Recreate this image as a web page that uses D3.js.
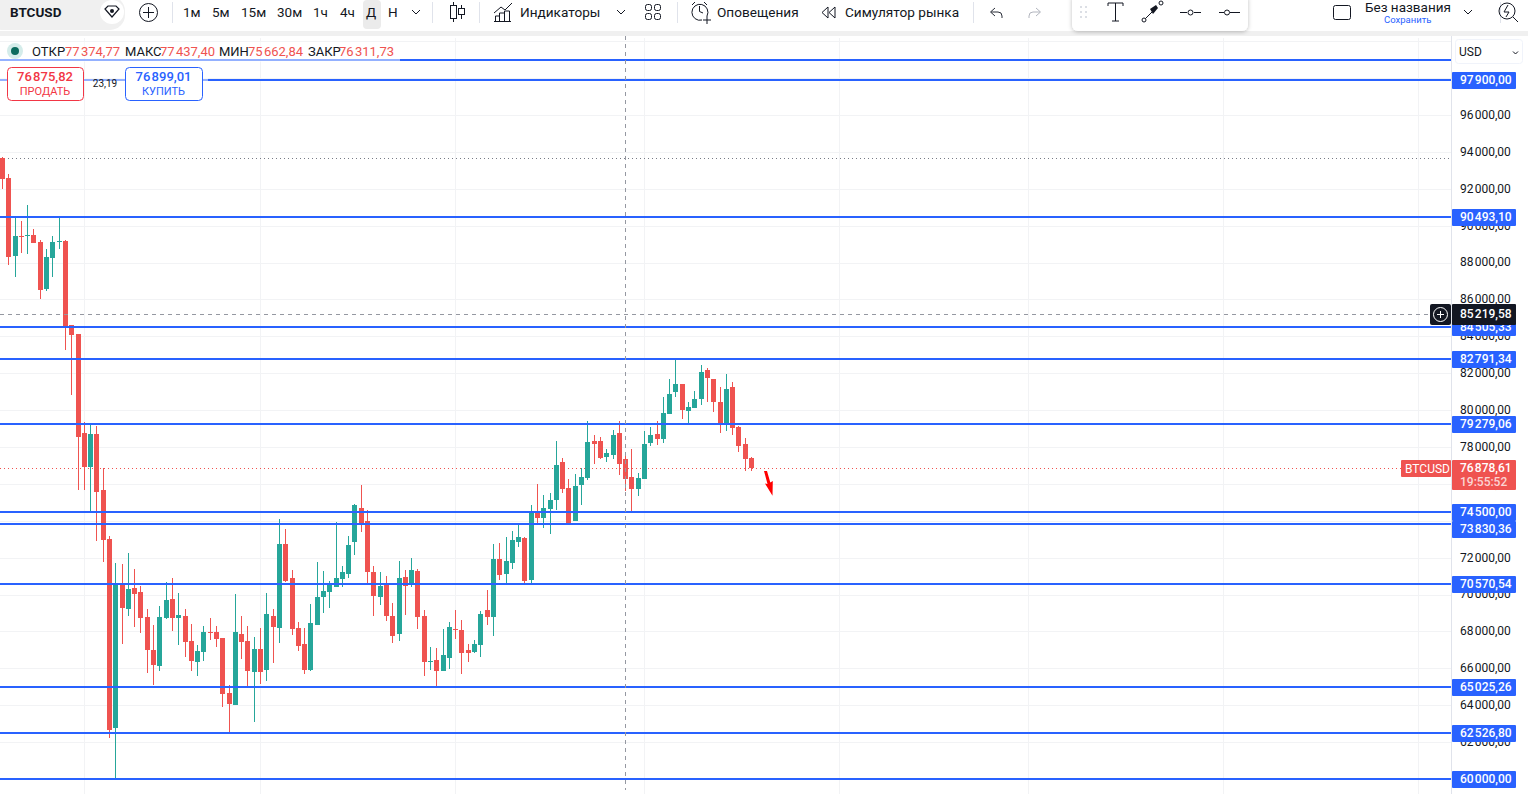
<!DOCTYPE html>
<html>
<head>
<meta charset="utf-8">
<script src="https://cdn.jsdelivr.net/npm/d3@7"></script>
<style>
  html, body { margin: 0; padding: 0; background: #fff; overflow: hidden; }
  text { font-family: Roboto, sans-serif; fill: #131722; }
</style>
</head>
<body>
<svg id="chart" width="1528" height="794"></svg>
<script>
// daily BTCUSD candles
var opens = [93671,92586,88357,89441,89441,89496,89116,86568,88249,89116,89170,84616,84128,78760,76916,78706,75669,73013,62765,70518,
  69217,70356,70139,68784,66994,66126,68729,69759,68729,68838,67483,66343,66885,67970,67970,67645,64663,64013,67862,67483,
  65800,67049,65910,68838,68187,72741,70898,68187,67320,65910,68349,69868,70139,70410,70844,71115,72850,74694,73988,71224,
  69868,70518,68838,67862,70952,70627,71278,68838,66343,66452,65855,66560,68133,68078,66994,66885,67265,69163,68784,71928,
  71115,71711,72850,73067,70790,74422,74151,74639,75127,77188,75778,73988,75940,76320,78326,78326,77459,77567,78760,77350,
  76374,75723,76266,78218,78706,78434,79790,80982,81416,79953,80115,80603,82177,81687,80440,79248,81254,79085,78163,77404];
var highs = [93700,92803,90472,90255,91122,89821,89225,88737,89441,90472,89225,84616,84128,79356,79302,79139,76862,73175,71711,71657,
  72253,71386,70464,69217,68349,69380,70681,70898,70085,69217,68404,67265,68295,68729,68295,67645,65096,70030,68838,68295,
  67700,68187,70085,69217,74097,73555,71332,68512,68187,69488,71765,71278,70735,73934,71549,73175,74910,75940,74585,71549,
  71224,71007,69542,71820,71332,71982,71386,69163,67157,67102,68133,68512,69163,68621,67320,67536,69108,70247,72741,72796,
  73120,73446,73771,73120,74856,75995,75398,75507,78326,77404,76266,76537,76862,79411,78652,78543,77893,78922,79411,77676,
  77893,76591,78869,79085,79411,80711,81687,82772,81416,80440,81037,82447,82284,81687,81254,81959,81525,79139,78488,77459];
var lows = [91990,87869,87218,88520,88466,89062,86026,86459,87218,88737,83260,80820,75669,75669,74476,72904,71765,62223,60000,67320,
  68838,68241,67916,65746,65096,65855,68675,68024,67265,66614,65855,65583,66398,67536,67157,63903,62494,64013,66506,64988,
  63089,65151,65314,66289,67374,70681,67808,66940,65692,65855,68349,68999,69271,70410,70410,70898,72142,73392,70518,68838,
  69434,68567,67374,67483,68892,70410,68133,65583,65910,64988,65855,65964,67591,65692,66343,66830,66614,68349,67753,70790,
  70518,71386,72579,70573,70627,73880,73609,73283,74585,75507,73826,73988,74856,76211,77079,77350,77188,77350,76483,75615,
  74476,75344,76266,78055,78109,78218,79790,80711,79519,79248,80115,80278,80440,79898,78760,78869,78652,77730,76699,76699];
var closes = [92532,88303,89441,89387,89496,89062,86514,88303,89116,89170,84562,84074,78543,76916,78706,75561,72958,62656,70518,69271,
  70301,70030,68729,66994,66181,68784,69705,68729,68892,67428,66398,66940,67970,67916,67591,64608,64067,67970,67428,65855,
  67049,65800,68946,68241,72741,70735,68133,67211,65910,68458,69868,70193,70573,70898,71224,72687,74856,73826,71224,69922,
  70464,68838,67753,70898,70464,71332,68784,66343,66398,65855,66723,68241,68078,66830,66830,67320,68946,68784,71928,71060,
  71820,72958,73120,70735,74476,74151,74694,75127,77025,75723,73826,75886,76374,78272,78163,77404,77676,78652,77079,76266,
  75723,76320,78163,78652,78434,79844,80874,81416,79997,80169,80603,82069,81742,80440,79248,81146,79031,78055,77350,76878.61];

// month boundaries, as candle numbers
var monthStarts = [13, 41, 72, 102, 133, 163, 194, 225];

var priceTicks = [62000,64000,66000,68000,70000,72000,74000,76000,78000,80000,82000,84000,86000,88000,90000,92000,94000,96000];
// highest first, tags get stacked in this order
var levels = [97900, 90493.10, 84505.33, 82791.34, 79279.06, 74500, 73830.36, 70570.54, 65025.26, 62526.80, 60000];
var topLevel = 98984;
var dottedLevel = 93671;
var lastPrice = 76878.61;
var crossPrice = 85219.58;
var crossIndex = 99;
var arrowFrom = 76699;

var legendItems = [
  ["ОТКР", "77\u200a374,77", 32, 65],
  ["МАКС", "77\u200a437,40", 125, 160],
  ["МИН", "75\u200a662,84", 219, 248],
  ["ЗАКР", "76\u200a311,73", 308, 339]
];
var timeframes = [["1м",183],["5м",212],["15м",241],["30м",277],["1ч",313],["4ч",340],["Д",366],["Н",388]];

var blue = "#2962ff", red = "#ef5350", green = "#26a69a";

var svg = d3.select("#chart");
var locale = d3.formatLocale({decimal: ",", thousands: "\u200a", grouping: [3]});
var fmt = locale.format(",.2f");

var x = d3.scaleLinear().domain([0, 119]).range([2.3, 751.3]);
var y = d3.scaleLinear().domain([60000, 97900]).range([779, 80]);
var axisX = 1451;

function px(i) { return Math.floor(x(i) + 0.2) + 0.5; }
function py(v) { return Math.round(y(v)); }
function levelY(v) { return Math.round(y(v) + 0.3); }

// Gridlines
var grid = svg.append("g");
grid.selectAll(".h").data(priceTicks.concat([98000])).enter().append("line")
  .attr("x1", 0).attr("x2", axisX)
  .attr("y1", d => py(d) + 0.5).attr("y2", d => py(d) + 0.5)
  .attr("stroke", "#f2f3f5");
grid.selectAll(".v").data(monthStarts).enter().append("line")
  .attr("x1", d => px(d)).attr("x2", d => px(d))
  .attr("y1", 38).attr("y2", 794)
  .attr("stroke", "#f2f3f5");
grid.append("line").attr("x1", 0).attr("x2", axisX).attr("y1", 41.5).attr("y2", 41.5).attr("stroke", "#f2f3f5");

// dotted lines
svg.append("line").attr("x1", 0).attr("x2", axisX)
  .attr("y1", py(dottedLevel) + 0.5).attr("y2", py(dottedLevel) + 0.5)
  .attr("stroke", "#787b86").attr("stroke-dasharray", "1 3");
svg.append("line").attr("x1", 0).attr("x2", 1401)
  .attr("y1", py(lastPrice) + 0.5).attr("y2", py(lastPrice) + 0.5)
  .attr("stroke", red).attr("stroke-dasharray", "1 3");

// Candles
var candles = d3.range(opens.length);
function candleColor(i) { return closes[i] >= opens[i] ? green : red; }

svg.append("g").selectAll("line").data(candles).enter().append("line")
  .attr("x1", d => px(d)).attr("x2", d => px(d))
  .attr("y1", d => py(highs[d])).attr("y2", d => py(lows[d]))
  .attr("stroke", candleColor);

svg.append("g").selectAll("rect").data(candles).enter().append("rect")
  .attr("x", d => px(d) - 2.5)
  .attr("width", 5)
  .attr("y", d => py(Math.max(opens[d], closes[d])))
  .attr("height", d => Math.max(1, py(Math.min(opens[d], closes[d])) - py(Math.max(opens[d], closes[d]))))
  .attr("fill", candleColor);

// Levels
svg.append("g").selectAll("line").data(levels.concat([topLevel])).enter().append("line")
  .attr("x1", 0).attr("x2", axisX)
  .attr("y1", d => levelY(d)).attr("y2", d => levelY(d))
  .attr("stroke", blue).attr("stroke-width", 2);

// Crosshair
svg.append("line").attr("x1", px(crossIndex)).attr("x2", px(crossIndex))
  .attr("y1", 36).attr("y2", 790)
  .attr("stroke", "#9598a1").attr("stroke-dasharray", "4 4");
svg.append("line").attr("x1", 0).attr("x2", 1430)
  .attr("y1", py(crossPrice) + 0.5).attr("y2", py(crossPrice) + 0.5)
  .attr("stroke", "#9598a1").attr("stroke-dasharray", "4 4");

// red arrow
var ay = y(arrowFrom);
svg.append("path")
  .attr("d", "M764," + ay + "L767," + ay + "L770.3," + (ay + 11.5) + "L772.8," + (ay + 10)
    + "L772.5," + (ay + 24.7) + "L765," + (ay + 12.5) + "L767.5," + (ay + 13) + "Z")
  .attr("fill", "#ff0000");

// Price axis
svg.append("rect").attr("x", axisX).attr("y", 36).attr("width", 77).attr("height", 758).attr("fill", "#fff");
svg.append("line").attr("x1", axisX + 0.5).attr("x2", axisX + 0.5).attr("y1", 36).attr("y2", 794).attr("stroke", "#e0e3eb");

var axis = d3.axisRight(y).tickValues(priceTicks).tickSize(0).tickPadding(0).tickFormat(fmt);
var axisG = svg.append("g").attr("transform", "translate(1460,-0.5)").call(axis);
axisG.select(".domain").remove();
axisG.selectAll("text").attr("font-size", 12).attr("font-family", "Roboto").attr("fill", "#131722");

function priceTag(yPos, h, fill, label, base) {
  svg.append("rect").attr("x", 1452).attr("y", yPos).attr("width", 64).attr("height", h).attr("rx", 1).attr("fill", fill);
  svg.append("text").attr("x", 1460).attr("y", yPos + base).attr("font-size", 12).attr("font-weight", 500)
    .style("fill", "#fff").text(label);
}
// tags that would overlap get pushed down
var prevBottom = 0;
levels.forEach(function(v) {
  var top = Math.max(levelY(v) - 8, prevBottom);
  priceTag(top, 17, blue, fmt(v), 12);
  prevBottom = top + 17;
});

// last price tag
priceTag(460, 30, red, fmt(lastPrice), 12);
svg.append("text").attr("x", 1460).attr("y", 485.5).attr("font-size", 12).attr("font-weight", 500)
  .style("fill", "#fbd5d4").text("19:55:52");
svg.append("rect").attr("x", 1401).attr("y", 460).attr("width", 50).attr("height", 17).attr("rx", 1).attr("fill", red);
svg.append("text").attr("x", 1405).attr("y", 472.5).attr("font-size", 12).style("fill", "#fff").text("BTCUSD");

// crosshair tag
priceTag(304, 21, "#131722", fmt(crossPrice), 14);
svg.append("rect").attr("x", 1430).attr("y", 304).attr("width", 21).attr("height", 21).attr("rx", 2).attr("fill", "#131722");
svg.append("circle").attr("cx", 1440.5).attr("cy", 314.5).attr("r", 7).attr("fill", "none").attr("stroke", "#fff");
svg.append("path").attr("d", "M1437,314.5H1444M1440.5,311V318").attr("stroke", "#fff");

// USD button
svg.append("rect").attr("x", 1455.5).attr("y", 39.5).attr("width", 67).attr("height", 24).attr("rx", 3)
  .attr("fill", "#fff").attr("stroke", "#f0f3fa");
svg.append("text").attr("x", 1459).attr("y", 56).attr("font-size", 12).text("USD");
svg.append("path").attr("d", "M1513,51.5L1515.5,54L1518,51.5").attr("fill", "none").attr("stroke", "#131722");

// Legend
svg.append("rect").attr("x", 0).attr("y", 42).attr("width", 400).attr("height", 20).attr("fill", "#fff").attr("opacity", 0.5);
svg.append("circle").attr("cx", 15).attr("cy", 51).attr("r", 8).attr("fill", "#d4ecea");
svg.append("circle").attr("cx", 15).attr("cy", 51).attr("r", 4).attr("fill", "#0b6b5e");
legendItems.forEach(function(d) {
  svg.append("text").attr("x", d[2]).attr("y", 56).attr("font-size", 13).text(d[0]);
  svg.append("text").attr("x", d[3]).attr("y", 56).attr("font-size", 13).style("fill", red).text(d[1]);
});

// sell and buy buttons
svg.append("rect").attr("x", 0).attr("y", 78).attr("width", 208).attr("height", 4).attr("fill", "#fff").attr("opacity", 0.5);
function tradeButton(bx, w, col, price, label) {
  svg.append("rect").attr("x", bx + 0.5).attr("y", 67.5).attr("width", w).attr("height", 33).attr("rx", 4)
    .attr("fill", "#fff").attr("stroke", col);
  svg.append("text").attr("x", bx + w / 2).attr("y", 81).attr("text-anchor", "middle").attr("font-size", 13)
    .attr("font-weight", 500).style("fill", col).text(price);
  svg.append("text").attr("x", bx + w / 2).attr("y", 95).attr("text-anchor", "middle").attr("font-size", 11)
    .style("fill", col).text(label);
}
tradeButton(7, 76, "#f23645", "76\u200a875,82", "ПРОДАТЬ");
tradeButton(125, 77, blue, "76\u200a899,01", "КУПИТЬ");
svg.append("text").attr("x", 105).attr("y", 87).attr("text-anchor", "middle").attr("font-size", 10).text("23,19");

// Toolbar
svg.append("rect").attr("x", 0).attr("y", 31).attr("width", 1528).attr("height", 5).attr("fill", "#f0f0f0");
svg.append("rect").attr("x", -12).attr("y", -4).attr("width", 137).attr("height", 34).attr("rx", 15).attr("fill", "#f0f0f0");
svg.append("circle").attr("cx", 112).attr("cy", 12).attr("r", 12).attr("fill", "#fff");
svg.append("path").attr("d", "M105,9L108,6H116L119,9L112,17Z").attr("fill", "none").attr("stroke", "#131722").attr("stroke-width", 1.2);
svg.append("circle").attr("cx", 112).attr("cy", 11).attr("r", 2).attr("fill", "#131722");
svg.append("text").attr("x", 10).attr("y", 17).attr("font-size", 13.5).attr("font-weight", 700).text("BTCUSD");
svg.append("circle").attr("cx", 148.5).attr("cy", 12.5).attr("r", 9).attr("fill", "none").attr("stroke", "#131722");
svg.append("path").attr("d", "M143,12.5H154M148.5,7V18").attr("stroke", "#131722");

var seps = [172.5, 432.5, 479.5, 677.5, 973.5, 1500.5];
svg.append("g").selectAll("line").data(seps).enter().append("line")
  .attr("x1", d => d).attr("x2", d => d).attr("y1", 2).attr("y2", 23).attr("stroke", "#e0e3eb");

svg.append("rect").attr("x", 363).attr("y", 0).attr("width", 18).attr("height", 29).attr("rx", 4).attr("fill", "#ebebeb");
timeframes.forEach(function(d) {
  svg.append("text").attr("x", d[1]).attr("y", 17).attr("font-size", 13.5).text(d[0]);
});

function chevron(cx, cy) {
  svg.append("path").attr("d", "M" + (cx - 4) + "," + (cy - 2) + "L" + cx + "," + (cy + 2) + "L" + (cx + 4) + "," + (cy - 2))
    .attr("fill", "none").attr("stroke", "#131722");
}
chevron(416, 12); chevron(621, 12); chevron(1468, 12);

// candle icon
svg.append("path").attr("d", "M453.5,2V22M461.5,5V19").attr("stroke", "#131722");
svg.append("rect").attr("x", 450.5).attr("y", 5.5).attr("width", 6).attr("height", 13).attr("fill", "#fff").attr("stroke", "#131722");
svg.append("rect").attr("x", 458.5).attr("y", 8.5).attr("width", 6).attr("height", 6).attr("fill", "#fff").attr("stroke", "#131722");
// indicators icon
svg.append("path").attr("d", "M494,13L501,7L505,10L512,3M495.5,21V16H499.5V21M499.5,21V13H504.5V21M504.5,21V11H509.5V21M494,21.5H511")
  .attr("fill", "none").attr("stroke", "#131722");
svg.append("text").attr("x", 520).attr("y", 17).attr("font-size", 13.6).text("Индикаторы");
// layouts icon
[645.5, 654.5].forEach(function(ix) {
  [4.5, 13.5].forEach(function(iy) {
    svg.append("rect").attr("x", ix).attr("y", iy).attr("width", 6).attr("height", 6).attr("rx", 2).attr("fill", "none").attr("stroke", "#131722");
  });
});
// alarm icon
svg.append("path").attr("d", "M707,16A8,8 0 1 0 702,20M699.5,6V11.5L703,13M703,20H711M707,16V24M692,5L695,2M704,2L707,5")
  .attr("fill", "none").attr("stroke", "#131722");
svg.append("text").attr("x", 717).attr("y", 17).attr("font-size", 13.6).text("Оповещения");
// replay icon
svg.append("path").attr("d", "M828,7L822,12.5L828,18V7M835,7L829,12.5L835,18V7").attr("fill", "none").attr("stroke", "#131722");
svg.append("text").attr("x", 845).attr("y", 17).attr("font-size", 13.6).text("Симулятор рынка");
// undo and redo
svg.append("path").attr("d", "M995,8L990.5,12L995,16M991,12H998A4,4 0 0 1 1002,16V18").attr("fill", "none").attr("stroke", "#2a2e39");
svg.append("path").attr("d", "M1036,8L1040.5,12L1036,16M1040,12H1033A4,4 0 0 0 1029,16V18").attr("fill", "none").attr("stroke", "#b2b5be");

// floating drawing toolbar
svg.append("defs").append("filter").attr("id", "shadow")
  .append("feDropShadow").attr("dx", 0).attr("dy", 1).attr("stdDeviation", 2).attr("flood-opacity", 0.25);
svg.append("rect").attr("x", 1072).attr("y", -6).attr("width", 176).attr("height", 37).attr("rx", 6)
  .attr("fill", "#fff").attr("filter", "url(#shadow)");
svg.append("g").selectAll("circle").data([[1081, 7], [1086, 7], [1081, 12], [1086, 12], [1081, 17], [1086, 17]]).enter().append("circle")
  .attr("cx", d => d[0]).attr("cy", d => d[1]).attr("r", 1).attr("fill", "#d1d4dc");
svg.append("path").attr("d", "M1108,6V3H1123V6M1115.5,3V21M1112,21H1119").attr("fill", "none").attr("stroke", "#131722");
svg.append("path").attr("d", "M1144,20L1152,12").attr("stroke", "#131722");
svg.append("circle").attr("cx", 1144).attr("cy", 20).attr("r", 2).attr("fill", "#fff").attr("stroke", "#131722");
svg.append("path").attr("d", "M1150,9L1156,5L1158,8L1153,14Z").attr("fill", "#131722");
svg.append("circle").attr("cx", 1161).attr("cy", 3).attr("r", 2).attr("fill", "#fff").attr("stroke", "#131722");
svg.append("path").attr("d", "M1180,12.5H1187M1194,12.5H1201M1219,12.5H1224M1230,12.5H1240").attr("stroke", "#131722");
svg.append("circle").attr("cx", 1190.5).attr("cy", 12.5).attr("r", 2.5).attr("fill", "#fff").attr("stroke", "#131722");
svg.append("circle").attr("cx", 1227).attr("cy", 12.5).attr("r", 2.5).attr("fill", "#fff").attr("stroke", "#131722");

// layout name
svg.append("rect").attr("x", 1333.5).attr("y", 5.5).attr("width", 17).attr("height", 14).attr("rx", 2).attr("fill", "none").attr("stroke", "#131722");
svg.append("text").attr("x", 1365).attr("y", 12).attr("font-size", 13.5).text("Без названия");
svg.append("text").attr("x", 1384).attr("y", 23).attr("font-size", 9.5).style("fill", blue).text("Сохранить");
// quick search icon
svg.append("circle").attr("cx", 1507).attr("cy", 11).attr("r", 8).attr("fill", "none").attr("stroke", "#131722");
svg.append("path").attr("d", "M1513,17L1518,22M1508,5L1504,12H1509L1506,17").attr("fill", "none").attr("stroke", "#131722");
</script>
</body>
</html>
